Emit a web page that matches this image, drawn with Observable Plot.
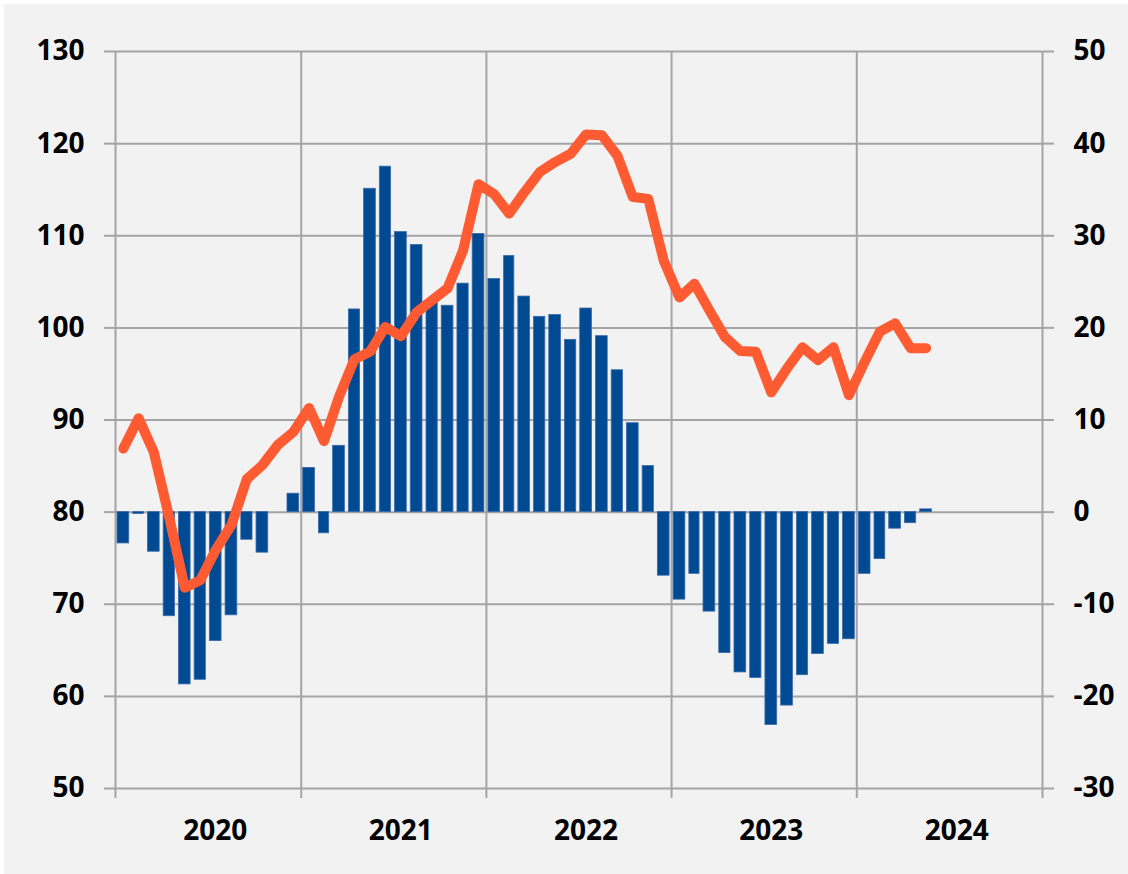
<!DOCTYPE html>
<html>
<head>
<meta charset="utf-8">
<script src="https://cdn.jsdelivr.net/npm/d3@7"></script>
<script src="https://cdn.jsdelivr.net/npm/@observablehq/plot@0.6"></script>
<style>
  html, body { margin: 0; padding: 0; background: #ffffff; }
  #chart { position: absolute; left: 4px; top: 4px; }
</style>
</head>
<body>
<div id="chart"></div>
<script>
// ---- data ----
const startMonth = "2020-01";
// bars: right axis values (month by month from 2020-01)
const barValues = [
  -3.4, -0.2, -4.3, -11.3, -18.7, -18.2, -14.0, -11.2, -3.0, -4.4, 0, 2.0,
  4.8, -2.3, 7.2, 22.0, 35.1, 37.5, 30.4, 29.0, 22.8, 22.4, 24.8, 30.2,
  25.3, 27.8, 23.4, 21.2, 21.4, 18.7, 22.1, 19.1, 15.4, 9.65, 5.0, -6.9,
  -9.5, -6.7, -10.8, -15.3, -17.4, -18.0, -23.1, -21.0, -17.7, -15.4, -14.3, -13.8,
  -6.7, -5.1, -1.8, -1.2, 0.3
];
// line: left axis values
const lineValues = [
  86.9, 90.2, 86.5, 79.4, 71.8, 72.6, 75.9, 78.6, 83.6, 85.1, 87.3, 88.7,
  91.3, 87.7, 92.5, 96.6, 97.4, 100.1, 99.1, 101.7, 103.0, 104.3, 108.4, 115.6,
  114.5, 112.4, 114.7, 116.9, 118.0, 118.9, 121.0, 120.9, 118.7, 114.2, 114.0, 107.3,
  103.3, 104.8, 101.9, 99.0, 97.5, 97.4, 93.0, 95.6, 97.9, 96.5, 97.9, 92.7,
  96.3, 99.6, 100.5, 97.8, 97.8
];
const years = [2020, 2021, 2022, 2023, 2024, 2025];
const yearLabels = ["2020", "2021", "2022", "2023", "2024"];
const leftTicks = [50, 60, 70, 80, 90, 100, 110, 120, 130];
const axisOffset = 80; // right axis value = left axis value - 80

// ---- derived tables ----
const t0 = d3.utcParse("%Y-%m")(startMonth);
const barData = barValues.map((v, i) => {
  const s = d3.utcMonth.offset(t0, i);
  const e = d3.utcMonth.offset(t0, i + 1);
  return {start: s, end: e, v};
});
const lineData = lineValues.map((v, i) => {
  const s = d3.utcMonth.offset(t0, i);
  const e = d3.utcMonth.offset(t0, i + 1);
  return {date: new Date((+s + +e) / 2), v};
});
const yearTicks = years.map(y => new Date(Date.UTC(y, 0, 1)));
const midYear = yearLabels.map(y => new Date((Date.UTC(+y, 0, 1) + Date.UTC(+y + 1, 0, 1)) / 2));

const gridColor = "#a4a4a4";
const font = {fontSize: 28, fontWeight: "bold", fill: "#000"};

const chart = Plot.plot({
  width: 1124,
  height: 870,
  marginLeft: 111,
  marginRight: 86,
  marginTop: 47,
  marginBottom: 86,
  style: {background: "#f2f2f2", fontFamily: "'Open Sans', 'Noto Sans', sans-serif", color: "#000", overflow: "visible"},
  x: {type: "utc", domain: [yearTicks[0], yearTicks[yearTicks.length - 1]], label: null},
  y: {domain: [50, 130], label: null},
  marks: [
    Plot.gridY(leftTicks, {stroke: gridColor, strokeOpacity: 1, strokeWidth: 2}),
    Plot.gridX(yearTicks, {stroke: gridColor, strokeOpacity: 1, strokeWidth: 2}),
    Plot.axisY(leftTicks, {anchor: "left", label: null, tickSize: 11, tickPadding: 20, stroke: gridColor, strokeWidth: 2, ...font, tickFormat: d => String(d)}),
    Plot.axisY(leftTicks, {anchor: "right", label: null, tickSize: 11, tickPadding: 20, stroke: gridColor, strokeWidth: 2, ...font, tickFormat: d => String(d - axisOffset)}),
    Plot.axisX(yearTicks, {anchor: "bottom", label: null, tickSize: 10, stroke: gridColor, strokeWidth: 2, tickFormat: () => ""}),
    Plot.axisX(midYear, {anchor: "bottom", label: null, tickSize: 0, tickPadding: 32, dx: 7, ...font, tickFormat: (d, i) => yearLabels[i]}),
    Plot.rect(barData, {
      x1: "start", x2: "end",
      y1: () => axisOffset, y2: d => d.v + axisOffset,
      insetLeft: 2, insetRight: 2,
      fill: "#004a93", stroke: "#3a6aa8", strokeWidth: 0.8
    }),
    Plot.line(lineData, {x: "date", y: "v", stroke: "#ff5b33", strokeWidth: 10, strokeLinejoin: "round", strokeLinecap: "round"})
  ]
});
document.getElementById("chart").appendChild(chart);
</script>
</body>
</html>
